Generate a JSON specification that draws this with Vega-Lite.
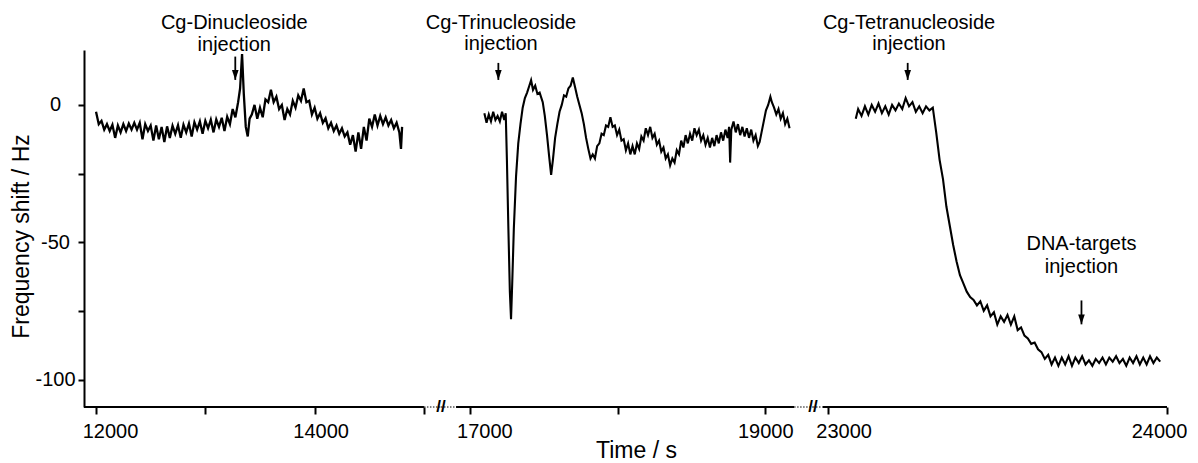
{
"$schema": "https://vega.github.io/schema/vega-lite/v6.json",
"padding": {"left": 10, "top": 13, "right": 0, "bottom": 0},
"bounds": "flush",
"spacing": 0,
"config": {
  "view": {"stroke": null},
  "font": "Liberation Sans",
  "axis": {"grid": false, "labelFont": "Liberation Sans", "labelFontSize": 20, "labelColor": "black", "titleFont": "Liberation Sans", "titleFontSize": 23, "titleFontWeight": "normal", "titleColor": "black", "domainColor": "black", "domainWidth": 2, "tickColor": "black", "tickWidth": 2, "labelOverlap": false, "labelFlush": false, "labelBound": false},
  "text": {"font": "Liberation Sans", "fontSize": 20, "color": "black"}
},
"datasets": {
  "p1": [{"t":12000,"f":-2.5},{"t":12025,"f":-7},{"t":12050,"f":-5.8},{"t":12075,"f":-9},{"t":12100,"f":-7},{"t":12125,"f":-9.5},{"t":12150,"f":-7.2},{"t":12175,"f":-12},{"t":12200,"f":-7.5},{"t":12225,"f":-10},{"t":12250,"f":-7},{"t":12275,"f":-9.5},{"t":12300,"f":-6.8},{"t":12325,"f":-9},{"t":12350,"f":-6.5},{"t":12375,"f":-9},{"t":12400,"f":-6.5},{"t":12425,"f":-12.5},{"t":12450,"f":-7},{"t":12475,"f":-9.5},{"t":12500,"f":-7.5},{"t":12525,"f":-13},{"t":12550,"f":-7.5},{"t":12575,"f":-12.5},{"t":12600,"f":-8},{"t":12625,"f":-13.5},{"t":12650,"f":-7.8},{"t":12675,"f":-12},{"t":12700,"f":-7.6},{"t":12725,"f":-10.5},{"t":12750,"f":-7.4},{"t":12775,"f":-12},{"t":12800,"f":-7.2},{"t":12825,"f":-10},{"t":12850,"f":-6.8},{"t":12875,"f":-11.5},{"t":12900,"f":-6.3},{"t":12925,"f":-9},{"t":12950,"f":-6},{"t":12975,"f":-10.5},{"t":13000,"f":-5.8},{"t":13025,"f":-8.5},{"t":13050,"f":-5.4},{"t":13075,"f":-10},{"t":13100,"f":-5.3},{"t":13125,"f":-8},{"t":13150,"f":-4.7},{"t":13175,"f":-9.5},{"t":13200,"f":-4.3},{"t":13225,"f":-7},{"t":13250,"f":-1.5},{"t":13275,"f":-4.5},{"t":13300,"f":1},{"t":13318,"f":6},{"t":13336,"f":18.5},{"t":13352,"f":4},{"t":13370,"f":-8},{"t":13388,"f":-11.5},{"t":13405,"f":-5},{"t":13425,"f":-3.5},{"t":13450,"f":0},{"t":13475,"f":-5},{"t":13500,"f":-1},{"t":13525,"f":-4.5},{"t":13550,"f":2},{"t":13575,"f":1},{"t":13600,"f":5.5},{"t":13625,"f":1},{"t":13650,"f":3},{"t":13675,"f":-1.5},{"t":13700,"f":0},{"t":13725,"f":-5.5},{"t":13750,"f":-1.5},{"t":13775,"f":-3.5},{"t":13800,"f":1.5},{"t":13825,"f":-1},{"t":13850,"f":3.5},{"t":13875,"f":1.5},{"t":13900,"f":6},{"t":13925,"f":1},{"t":13950,"f":1.5},{"t":13975,"f":-3.5},{"t":14000,"f":-1},{"t":14025,"f":-5},{"t":14050,"f":-3},{"t":14075,"f":-6.5},{"t":14100,"f":-4.8},{"t":14125,"f":-8.5},{"t":14150,"f":-6.5},{"t":14175,"f":-9.5},{"t":14200,"f":-7.5},{"t":14225,"f":-10.5},{"t":14250,"f":-8.5},{"t":14275,"f":-11.5},{"t":14300,"f":-10},{"t":14325,"f":-14.5},{"t":14350,"f":-11},{"t":14375,"f":-17},{"t":14400,"f":-10},{"t":14425,"f":-16},{"t":14450,"f":-8},{"t":14475,"f":-13},{"t":14500,"f":-5},{"t":14525,"f":-8},{"t":14550,"f":-3.5},{"t":14575,"f":-7.5},{"t":14600,"f":-4},{"t":14625,"f":-7},{"t":14650,"f":-4.5},{"t":14675,"f":-7.5},{"t":14700,"f":-5.5},{"t":14725,"f":-8.5},{"t":14750,"f":-6.5},{"t":14775,"f":-10},{"t":14790,"f":-16},{"t":14800,"f":-8}],
  "p2": [{"t":17095,"f":-3},{"t":17110,"f":-6.5},{"t":17125,"f":-3.5},{"t":17140,"f":-6},{"t":17155,"f":-2.5},{"t":17170,"f":-5.5},{"t":17185,"f":-4},{"t":17200,"f":-6},{"t":17215,"f":-2.5},{"t":17230,"f":-5.5},{"t":17240,"f":-3},{"t":17248,"f":-20},{"t":17258,"f":-45},{"t":17268,"f":-68},{"t":17276,"f":-78},{"t":17284,"f":-65},{"t":17295,"f":-45},{"t":17310,"f":-26},{"t":17325,"f":-14},{"t":17340,"f":-7},{"t":17355,"f":-1},{"t":17370,"f":2.5},{"t":17385,"f":4.5},{"t":17400,"f":7},{"t":17412,"f":9},{"t":17425,"f":5.5},{"t":17440,"f":7},{"t":17455,"f":4},{"t":17470,"f":4.5},{"t":17491,"f":1},{"t":17505,"f":-4},{"t":17520,"f":-11},{"t":17535,"f":-19},{"t":17548,"f":-25.5},{"t":17560,"f":-20},{"t":17575,"f":-12},{"t":17590,"f":-7},{"t":17605,"f":-2.5},{"t":17620,"f":0},{"t":17635,"f":3.5},{"t":17650,"f":3},{"t":17665,"f":6},{"t":17680,"f":7},{"t":17695,"f":10},{"t":17710,"f":6.5},{"t":17725,"f":3},{"t":17740,"f":0},{"t":17755,"f":-3},{"t":17770,"f":-7},{"t":17785,"f":-12},{"t":17800,"f":-16},{"t":17815,"f":-19.5},{"t":17830,"f":-18},{"t":17845,"f":-19.5},{"t":17860,"f":-15},{"t":17875,"f":-14},{"t":17890,"f":-10.5},{"t":17905,"f":-11},{"t":17920,"f":-7.5},{"t":17935,"f":-8},{"t":17950,"f":-4.5},{"t":17965,"f":-8},{"t":17980,"f":-7.5},{"t":17995,"f":-11},{"t":18010,"f":-9},{"t":18025,"f":-13},{"t":18040,"f":-12.5},{"t":18055,"f":-16.5},{"t":18070,"f":-14},{"t":18085,"f":-18},{"t":18100,"f":-15},{"t":18115,"f":-18},{"t":18130,"f":-14},{"t":18145,"f":-16},{"t":18160,"f":-11.5},{"t":18175,"f":-13},{"t":18190,"f":-8.5},{"t":18205,"f":-11},{"t":18220,"f":-8},{"t":18235,"f":-12},{"t":18250,"f":-10.5},{"t":18265,"f":-14.5},{"t":18280,"f":-13},{"t":18295,"f":-17},{"t":18310,"f":-15.5},{"t":18325,"f":-19.5},{"t":18340,"f":-18},{"t":18355,"f":-22},{"t":18370,"f":-19.5},{"t":18385,"f":-21},{"t":18400,"f":-16.5},{"t":18415,"f":-18},{"t":18430,"f":-13},{"t":18445,"f":-15.5},{"t":18460,"f":-11},{"t":18475,"f":-14},{"t":18490,"f":-10.5},{"t":18505,"f":-13},{"t":18520,"f":-8.5},{"t":18535,"f":-11},{"t":18550,"f":-9},{"t":18565,"f":-13},{"t":18580,"f":-11},{"t":18595,"f":-14.5},{"t":18610,"f":-12},{"t":18625,"f":-15.5},{"t":18640,"f":-12},{"t":18655,"f":-15},{"t":18670,"f":-11},{"t":18685,"f":-14},{"t":18700,"f":-10},{"t":18715,"f":-13},{"t":18730,"f":-9},{"t":18745,"f":-12},{"t":18755,"f":-8},{"t":18762,"f":-21},{"t":18770,"f":-9},{"t":18785,"f":-6},{"t":18800,"f":-10},{"t":18815,"f":-7},{"t":18830,"f":-11},{"t":18845,"f":-8},{"t":18860,"f":-11.5},{"t":18875,"f":-8.5},{"t":18890,"f":-12},{"t":18905,"f":-9},{"t":18920,"f":-13},{"t":18935,"f":-11},{"t":18950,"f":-15},{"t":18962,"f":-13.5},{"t":18975,"f":-10},{"t":18990,"f":-6},{"t":19005,"f":-2},{"t":19020,"f":0},{"t":19035,"f":3},{"t":19045,"f":1},{"t":19060,"f":-1},{"t":19075,"f":-3.5},{"t":19090,"f":-1.5},{"t":19105,"f":-5},{"t":19120,"f":-3},{"t":19135,"f":-7},{"t":19150,"f":-5},{"t":19165,"f":-8.5}],
  "p3": [{"t":23083,"f":-5},{"t":23090,"f":-1.5},{"t":23100,"f":-4},{"t":23110,"f":-0.5},{"t":23120,"f":-3.5},{"t":23130,"f":0},{"t":23140,"f":-2.5},{"t":23150,"f":0.5},{"t":23160,"f":-3},{"t":23170,"f":-0.5},{"t":23180,"f":-3.5},{"t":23190,"f":0},{"t":23200,"f":-2},{"t":23210,"f":0.5},{"t":23220,"f":-1.5},{"t":23230,"f":2.5},{"t":23240,"f":-0.5},{"t":23250,"f":1},{"t":23260,"f":-2.5},{"t":23270,"f":-0.5},{"t":23280,"f":-3},{"t":23290,"f":-0.5},{"t":23300,"f":-2},{"t":23310,"f":-1},{"t":23320,"f":-10},{"t":23330,"f":-20},{"t":23340,"f":-27},{"t":23350,"f":-37},{"t":23360,"f":-44},{"t":23370,"f":-51},{"t":23380,"f":-57},{"t":23390,"f":-62},{"t":23400,"f":-65},{"t":23410,"f":-68},{"t":23420,"f":-70},{"t":23430,"f":-71},{"t":23440,"f":-73},{"t":23450,"f":-71.5},{"t":23460,"f":-75},{"t":23470,"f":-73},{"t":23480,"f":-77},{"t":23490,"f":-75.5},{"t":23500,"f":-80},{"t":23510,"f":-77},{"t":23520,"f":-79},{"t":23530,"f":-76.5},{"t":23540,"f":-80},{"t":23550,"f":-77},{"t":23560,"f":-82},{"t":23570,"f":-81},{"t":23580,"f":-84},{"t":23590,"f":-85},{"t":23600,"f":-87},{"t":23610,"f":-86.5},{"t":23620,"f":-89},{"t":23630,"f":-90},{"t":23640,"f":-92.5},{"t":23650,"f":-91},{"t":23660,"f":-94.5},{"t":23670,"f":-92},{"t":23680,"f":-95},{"t":23690,"f":-92},{"t":23700,"f":-94.5},{"t":23710,"f":-91.5},{"t":23720,"f":-95},{"t":23730,"f":-92},{"t":23740,"f":-94},{"t":23750,"f":-91.5},{"t":23760,"f":-94.5},{"t":23770,"f":-93},{"t":23780,"f":-95},{"t":23790,"f":-92.5},{"t":23800,"f":-94},{"t":23810,"f":-92},{"t":23820,"f":-94.5},{"t":23830,"f":-92},{"t":23840,"f":-93.5},{"t":23850,"f":-91.5},{"t":23860,"f":-94},{"t":23870,"f":-92.5},{"t":23880,"f":-95},{"t":23890,"f":-92},{"t":23900,"f":-94},{"t":23910,"f":-91.5},{"t":23920,"f":-94.5},{"t":23930,"f":-92},{"t":23940,"f":-94.5},{"t":23950,"f":-91.5},{"t":23960,"f":-94},{"t":23970,"f":-92},{"t":23980,"f":-93.5}],
  "notes": [{"panel":1,"t":13265,"f":27.6,"label":"Cg-Dinucleoside"},{"panel":1,"t":13265,"f":19.8,"label":"injection"},{"panel":2,"t":17208,"f":27.6,"label":"Cg-Trinucleoside"},{"panel":2,"t":17208,"f":20.1,"label":"injection"},{"panel":3,"t":23240,"f":27.6,"label":"Cg-Tetranucleoside"},{"panel":3,"t":23240,"f":20.1,"label":"injection"},{"panel":3,"t":23748,"f":-52.9,"label":"DNA-targets"},{"panel":3,"t":23748,"f":-61.2,"label":"injection"}],
  "arrows": [{"panel":1,"t":13274,"top":17.6,"tip":9.1},{"panel":2,"t":17190,"top":15.3,"tip":9.1},{"panel":3,"t":23236,"top":15.3,"tip":9.1},{"panel":3,"t":23748,"top":-71.2,"tip":-79.9}],
  "one": [{}]
},
"hconcat": [
  {
    "width": 357, "height": 357,
    "layer": [
      {"data": {"name": "p1"}, "mark": {"type": "line", "color": "black", "strokeWidth": 2.3},
       "encoding": {
         "x": {"field": "t", "type": "quantitative", "scale": {"domain": [11890, 15156], "nice": false, "zero": false},
               "axis": {"values": [12000, 13000, 14000, 15000], "domain": false, "tickSize": 7, "labelPadding": 7, "title": null,
                        "labelExpr": "datum.value == 12000 || datum.value == 14000 ? '' + datum.value : ''",
                        "labelOffset": {"condition": {"test": "datum.value == 12000", "value": 14}, "value": 6}}},
         "y": {"field": "f", "type": "quantitative", "scale": {"domain": [-110, 20], "nice": false, "zero": false},
               "axis": {"values": [-100, -75, -50, -25, 0], "tickSize": 6, "labelAlign": "center", "labelBaseline": "middle", "labelPadding": 23,
                        "labelExpr": "datum.value % 50 == 0 ? '' + datum.value : ''",
                        "title": "Frequency shift / Hz", "titlePadding": 1, "titleY": 186}}
       }},
      {"data": {"name": "arrows"}, "transform": [{"filter": "datum.panel == 1"}], "mark": {"type": "rule", "color": "black", "strokeWidth": 1.8},
       "encoding": {"x": {"field": "t", "type": "quantitative"},
                    "y": {"field": "top", "type": "quantitative"},
                    "y2": {"field": "tip"}}},
      {"data": {"name": "arrows"}, "transform": [{"filter": "datum.panel == 1"}], "mark": {"type": "point", "shape": "M-1,-3L1,-3L0,0Z", "size": 44, "filled": true, "color": "black", "opacity": 1},
       "encoding": {"x": {"field": "t", "type": "quantitative"},
                    "y": {"field": "tip", "type": "quantitative"}}},
      {"data": {"name": "notes"}, "transform": [{"filter": "datum.panel == 1"}], "mark": {"type": "text", "align": "center", "baseline": "alphabetic"},
       "encoding": {"x": {"field": "t", "type": "quantitative"},
                    "y": {"field": "f", "type": "quantitative"},
                    "text": {"field": "label"}}},
      {"data": {"name": "one"}, "mark": {"type": "rule", "color": "black", "strokeWidth": 2},
       "encoding": {"x": {"datum": 11890, "type": "quantitative"}, "x2": {"datum": 15000}, "y": {"datum": -110, "type": "quantitative"}}},
      {"data": {"name": "one"}, "mark": {"type": "rule", "color": "black", "strokeWidth": 1, "strokeDash": [1.5, 1.5]},
       "encoding": {"x": {"datum": 15000, "type": "quantitative"}, "x2": {"datum": 15156}, "y": {"datum": -110, "type": "quantitative"}}},
      {"data": {"name": "one"}, "mark": {"type": "text", "text": "//", "fontSize": 17, "fontWeight": "bold", "align": "center", "baseline": "middle"},
       "encoding": {"x": {"datum": 15156, "type": "quantitative"}, "y": {"datum": -110, "type": "quantitative"}}}
    ]
  },
  {
    "width": 372, "height": 357,
    "layer": [
      {"data": {"name": "p2"}, "mark": {"type": "line", "color": "black", "strokeWidth": 2.1},
       "encoding": {
         "x": {"field": "t", "type": "quantitative", "scale": {"domain": [16801, 19324], "nice": false, "zero": false},
               "axis": {"values": [17000, 18000, 19000], "domain": false, "tickSize": 7, "labelPadding": 7,
                        "labelExpr": "datum.value == 17000 || datum.value == 19000 ? '' + datum.value : ''",
                        "labelOffset": {"condition": {"test": "datum.value == 17000", "value": 14}, "value": 0},
                        "title": "Time / s", "titleX": 195, "titleY": 50, "titleBaseline": "alphabetic", "titleAlign": "center"}},
         "y": {"field": "f", "type": "quantitative", "scale": {"domain": [-110, 20], "nice": false, "zero": false}, "axis": null}
       }},
      {"data": {"name": "arrows"}, "transform": [{"filter": "datum.panel == 2"}], "mark": {"type": "rule", "color": "black", "strokeWidth": 1.8},
       "encoding": {"x": {"field": "t", "type": "quantitative"},
                    "y": {"field": "top", "type": "quantitative", "axis": null},
                    "y2": {"field": "tip"}}},
      {"data": {"name": "arrows"}, "transform": [{"filter": "datum.panel == 2"}], "mark": {"type": "point", "shape": "M-1,-3L1,-3L0,0Z", "size": 44, "filled": true, "color": "black", "opacity": 1},
       "encoding": {"x": {"field": "t", "type": "quantitative"},
                    "y": {"field": "tip", "type": "quantitative", "axis": null}}},
      {"data": {"name": "notes"}, "transform": [{"filter": "datum.panel == 2"}], "mark": {"type": "text", "align": "center", "baseline": "alphabetic"},
       "encoding": {"x": {"field": "t", "type": "quantitative"},
                    "y": {"field": "f", "type": "quantitative", "axis": null},
                    "text": {"field": "label"}}},
      {"data": {"name": "one"}, "mark": {"type": "rule", "color": "black", "strokeWidth": 1, "strokeDash": [1.5, 1.5]},
       "encoding": {"x": {"datum": 16801, "type": "quantitative"}, "x2": {"datum": 16903}, "y": {"datum": -110, "type": "quantitative", "axis": null}}},
      {"data": {"name": "one"}, "mark": {"type": "rule", "color": "black", "strokeWidth": 2},
       "encoding": {"x": {"datum": 16903, "type": "quantitative"}, "x2": {"datum": 19196}, "y": {"datum": -110, "type": "quantitative", "axis": null}}},
      {"data": {"name": "one"}, "mark": {"type": "rule", "color": "black", "strokeWidth": 1, "strokeDash": [1.5, 1.5]},
       "encoding": {"x": {"datum": 19196, "type": "quantitative"}, "x2": {"datum": 19324}, "y": {"datum": -110, "type": "quantitative", "axis": null}}},
      {"data": {"name": "one"}, "mark": {"type": "text", "text": "//", "fontSize": 17, "fontWeight": "bold", "align": "center", "baseline": "middle"},
       "encoding": {"x": {"datum": 19324, "type": "quantitative"}, "y": {"datum": -110, "type": "quantitative", "axis": null}}}
    ]
  },
  {
    "width": 354, "height": 357,
    "layer": [
      {"data": {"name": "p3"}, "mark": {"type": "line", "color": "black", "strokeWidth": 2.1},
       "encoding": {
         "x": {"field": "t", "type": "quantitative", "scale": {"domain": [22957, 24000], "nice": false, "zero": false},
               "axis": {"values": [23000, 24000], "domain": false, "tickSize": 7, "labelPadding": 7, "title": null,
                        "labelExpr": "'' + datum.value",
                        "labelOffset": {"condition": {"test": "datum.value == 23000", "value": 16}, "value": -8}}},
         "y": {"field": "f", "type": "quantitative", "scale": {"domain": [-110, 20], "nice": false, "zero": false}, "axis": null}
       }},
      {"data": {"name": "arrows"}, "transform": [{"filter": "datum.panel == 3"}], "mark": {"type": "rule", "color": "black", "strokeWidth": 1.8},
       "encoding": {"x": {"field": "t", "type": "quantitative"},
                    "y": {"field": "top", "type": "quantitative", "axis": null},
                    "y2": {"field": "tip"}}},
      {"data": {"name": "arrows"}, "transform": [{"filter": "datum.panel == 3"}], "mark": {"type": "point", "shape": "M-1,-3L1,-3L0,0Z", "size": 44, "filled": true, "color": "black", "opacity": 1},
       "encoding": {"x": {"field": "t", "type": "quantitative"},
                    "y": {"field": "tip", "type": "quantitative", "axis": null}}},
      {"data": {"name": "notes"}, "transform": [{"filter": "datum.panel == 3"}], "mark": {"type": "text", "align": "center", "baseline": "alphabetic"},
       "encoding": {"x": {"field": "t", "type": "quantitative"},
                    "y": {"field": "f", "type": "quantitative", "axis": null},
                    "text": {"field": "label"}}},
      {"data": {"name": "one"}, "mark": {"type": "rule", "color": "black", "strokeWidth": 1, "strokeDash": [1.5, 1.5]},
       "encoding": {"x": {"datum": 22957, "type": "quantitative"}, "x2": {"datum": 22986}, "y": {"datum": -110, "type": "quantitative", "axis": null}}},
      {"data": {"name": "one"}, "mark": {"type": "rule", "color": "black", "strokeWidth": 2},
       "encoding": {"x": {"datum": 22986, "type": "quantitative"}, "x2": {"datum": 24000}, "y": {"datum": -110, "type": "quantitative", "axis": null}}}
    ]
  }
]
}
